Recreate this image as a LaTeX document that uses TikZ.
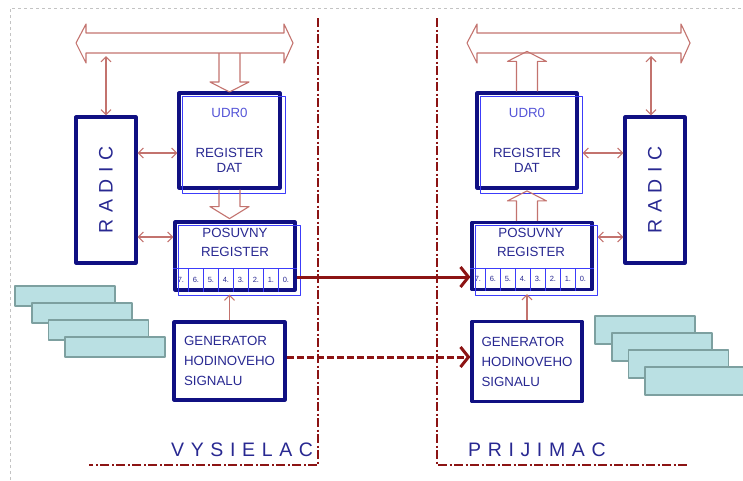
\documentclass[tikz,border=0pt]{standalone}
\usepackage{fontspec}
\setmainfont{Liberation Sans}
\usepackage{graphicx}
\usetikzlibrary{arrows.meta}
\definecolor{boxnavy}{RGB}{16,16,130}
\definecolor{thinblue}{RGB}{60,60,250}
\definecolor{txtnavy}{RGB}{40,40,145}
\definecolor{udrblue}{RGB}{85,85,215}
\definecolor{busrose}{RGB}{195,115,110}
\definecolor{wirered}{RGB}{140,20,20}
\definecolor{cardfill}{RGB}{186,224,227}
\definecolor{carddraw}{RGB}{125,160,160}
\definecolor{framegray}{RGB}{195,195,195}
\newcommand\spacedfont{\fontsize{19.5}{20}\selectfont\addfontfeatures{LetterSpace=34}}
\begin{document}
\begin{tikzpicture}[x=1pt,y=-1pt,line join=round,
  box/.style={draw=boxnavy,line width=3.2pt,text=txtnavy,inner sep=0pt,font=\fontsize{13.3}{15}\selectfont},
  regtxt/.style={align=center,text=txtnavy,inner sep=0pt,font=\fontsize{13.3}{19}\selectfont},
  thinbox/.style={draw=thinblue,line width=1pt},
  bit/.style={text=txtnavy,inner sep=0pt,font=\fontsize{7.5}{8}\selectfont},
  bus/.style={draw=busrose,line width=1.1pt},
  link/.style={busrose,line width=1.1pt,>={Straight Barb[length=5pt,width=10pt]}},
  wire/.style={wirered,line width=3pt,>={Straight Barb[length=8pt,width=20pt]}},
  divider/.style={wirered,line width=2.8pt,dash pattern=on 9pt off 2.5pt on 2pt off 2.5pt},
  sidelbl/.style={text=txtnavy,inner sep=0pt,font=\spacedfont},
  card/.style={draw=carddraw,fill=cardfill,line width=1.6pt}]
\useasboundingbox (0,0) rectangle (743,480);
\draw[framegray,line width=.6pt,dash pattern=on 3pt off 3pt] (10,480) -- (10,8) -- (743,8);
\path
  (0,53) coordinate (busbot)
  (0,56) coordinate (busgap)
  (0,153) coordinate (datrow)
  (0,237) coordinate (posrow)
  (0,277) coordinate (bitrow)
  (0,357) coordinate (clkrow)
  ;
\foreach \a/\b in {76/293,467/690}
  \draw[bus] (\a,43) -- ++(10,-19) -- ++(0,9) -- (\b-9,33) -- ++(0,-9) -- (\b,43) -- ++(-9,20) -- ++(0,-10) -- (\a+10,53) -- ++(0,10) -- cycle;
\foreach \i in {0,...,3}
  \draw[card] (15+16.7*\i,286+17*\i) rectangle ++(100,20);
\foreach \i in {0,...,3}
  \draw[card] (595+16.7*\i,316+17*\i) rectangle ++(100,28);
\draw[divider] (318,18) -- (318,465) -- (89,465);
\draw[divider] (437,18) -- (437,465) -- (687,465);
\node[box,minimum width=60pt,minimum height=146pt] (radicL) at (106,190) {\rotatebox{90}{\spacedfont RADIC}};
\node[box,minimum width=101pt,minimum height=95pt,align=center] (datL) at (229.5,140.5) {\textcolor{udrblue}{UDR0}\\[25pt]REGISTER\\DAT};
\node[box,minimum width=120pt,minimum height=68pt] (posL) at (235,256) {};
\node[regtxt] (posLtxt) at (235,242) {POSUVNY\\REGISTER};
\node[box,minimum width=111pt,minimum height=78pt,align=left,font=\fontsize{13.3}{20}\selectfont] (genL) at (229.5,361) {GENERATOR\\HODINOVEHO\\SIGNALU};
\node[box,minimum width=60pt,minimum height=146pt] (radicR) at (655,190) {\rotatebox{90}{\spacedfont RADIC}};
\node[box,minimum width=100pt,minimum height=95pt,align=center] (datR) at (527,140.5) {\textcolor{udrblue}{UDR0}\\[25pt]REGISTER\\DAT};
\node[box,minimum width=120pt,minimum height=67pt] (posR) at (532,256) {};
\node[regtxt] (posRtxt) at (531,242) {POSUVNY\\REGISTER};
\node[box,minimum width=110pt,minimum height=80pt,align=left,font=\fontsize{13.3}{20}\selectfont] (genR) at (527,361.5) {GENERATOR\\HODINOVEHO\\SIGNALU};
\foreach \r in {datL,posL,datR,posR}
  \draw[thinbox] ([shift={(5pt,-5pt)}]\r.north west) rectangle ([shift={(4pt,-4pt)}]\r.south east);
\foreach \r in {posL,posR}{
  \draw[thinbox] ([yshift=23pt]\r.south west) -- ([yshift=23pt]\r.south east);
  \foreach \i in {1,...,7}
    \draw[thinbox] ([xshift=\i*15pt,yshift=23pt]\r.south west) -- ([xshift=\i*15pt]\r.south west);
  \foreach \b [count=\i from 0] in {7,...,0}
    \node[bit] at ([xshift={(\i+0.5)*15pt},yshift=12pt]\r.south west) {\b.};
}
\draw[bus] (datL.north |- busbot) ++(-10.5,0) -- ++(0,29) -- ++(-9,0) -- ++(19.5,10) -- ++(19.5,-10) -- ++(-9,0) -- ++(0,-29);
\draw[bus] (datL.south) ++(-10.5,0) -- ++(0,17) -- ++(-9,0) -- ++(19.5,12) -- ++(19.5,-12) -- ++(-9,0) -- ++(0,-17);
\draw[bus] (datR.north) ++(-10.5,0) -- ++(0,-30) -- ++(-9,0) -- ++(19.5,-10) -- ++(19.5,10) -- ++(-9,0) -- ++(0,30);
\draw[bus] (datR.south |- posR.north) ++(-10.5,0) -- ++(0,-20) -- ++(-9,0) -- ++(19.5,-10) -- ++(19.5,10) -- ++(-9,0) -- ++(0,20);
\draw[link,<->] (radicL.north |- busgap) -- (radicL.north);
\draw[link,<->] ([xshift=-4pt]radicR.north |- busgap) -- ([xshift=-4pt]radicR.north);
\draw[link,<->] (radicL.east |- datrow) -- (datL.west |- datrow);
\draw[link,<->] (radicL.east |- posrow) -- (posL.west |- posrow);
\draw[link,<->] ([xshift=4pt]datR.east |- datrow) -- (radicR.west |- datrow);
\draw[link,<->] ([xshift=4pt]posR.east |- posrow) -- (radicR.west |- posrow);
\draw[link,->,shorten >=3pt] (genL.north) -- (genL.north |- posL.south);
\draw[link,->,shorten >=3pt] (genR.north) -- (genR.north |- posR.south);
\draw[wire,->] (posL.east |- bitrow) -- (posR.west |- bitrow);
\draw[wire,->,dash pattern=on 7pt off 3pt] (genL.east |- clkrow) -- (genR.west |- clkrow);
\node[sidelbl,anchor=base west] (vysielac) at (171,456) {VYSIELAC};
\node[sidelbl,anchor=base west] (prijimac) at (468,456) {PRIJIMAC};
\end{tikzpicture}
\end{document}
